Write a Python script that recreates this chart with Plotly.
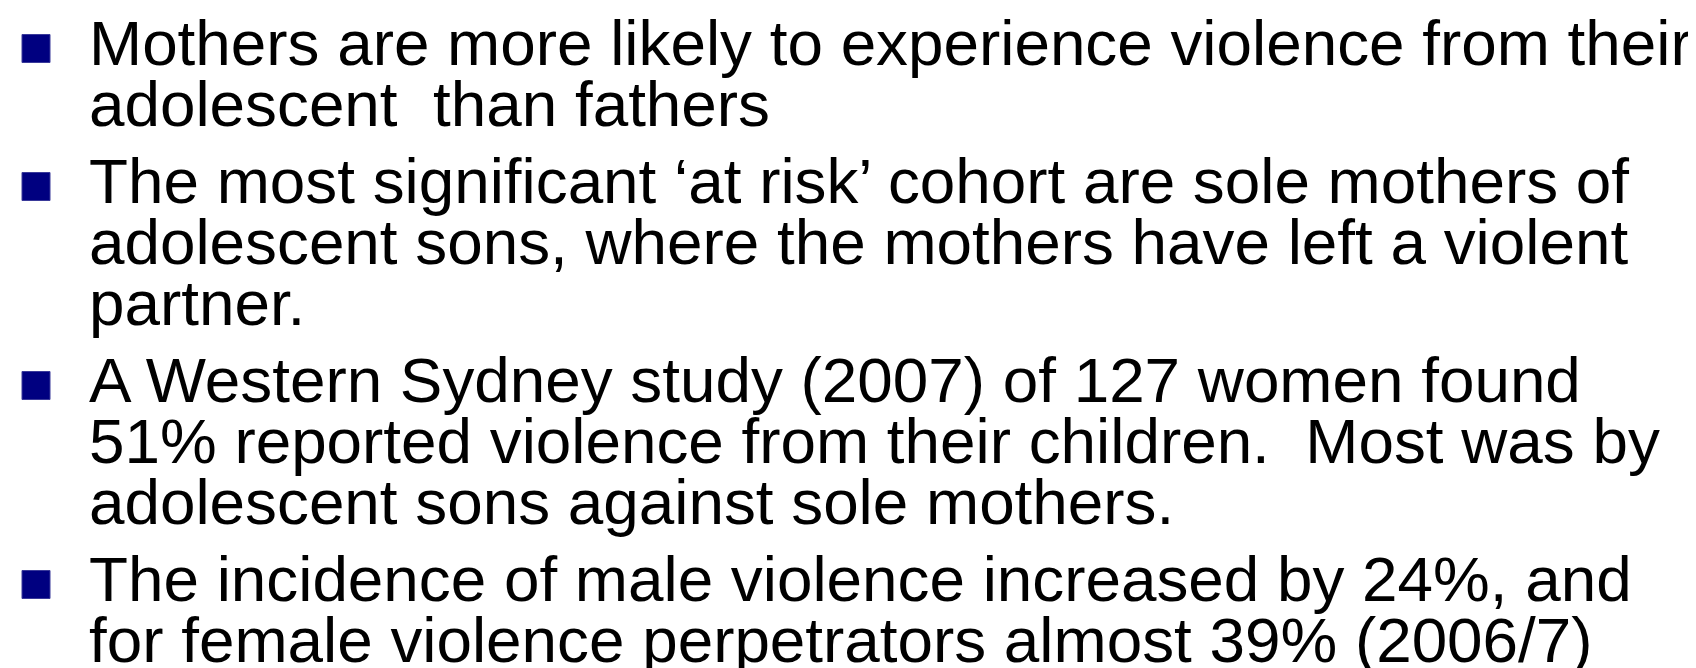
import plotly.graph_objects as go

# Slide content: each bullet paragraph as its visual lines
para_1 = ["Mothers are more likely to experience violence from their",
          "adolescent  than fathers"]
para_2 = ["The most significant \u2018at risk\u2019 cohort are sole mothers of",
          "adolescent sons, where the mothers have left a violent",
          "partner."]
para_3 = ["A Western Sydney study (2007) of 127 women found",
          "51% reported violence from their children.  Most was by",
          "adolescent sons against sole mothers."]
para_4 = ["The incidence of male violence increased by 24%, and",
          "for female violence perpetrators almost 39% (2006/7)"]
paragraphs = [para_1, para_2, para_3, para_4]

W, H = 1696, 668
FONT_SIZE = 63.8
FONT = "Liberation Sans, Arial, sans-serif"
LINE_STEP = 61.0        # baseline to baseline within a paragraph
PARA_STEP = 77.0        # baseline to baseline across paragraphs
FIRST_BASELINE = 60.0
TEXT_X = 79.0
BULLET_X = 28.0
BULLET_SIZE = 28.0
BULLET_COLOR = "#000080"
BASELINE_TO_MIDDLE = 0.3465 * FONT_SIZE + 2.5

fig = go.Figure()
annotations = []
shapes = []
baseline = FIRST_BASELINE
for p_idx, para in enumerate(paragraphs):
    if p_idx > 0:
        baseline += PARA_STEP
    cy = baseline - 19.5
    shapes.append(dict(type="rect", xref="x", yref="y",
                       x0=BULLET_X - BULLET_SIZE / 2, x1=BULLET_X + BULLET_SIZE / 2,
                       y0=cy - BULLET_SIZE / 2, y1=cy + BULLET_SIZE / 2,
                       fillcolor=BULLET_COLOR,
                       line=dict(color="#3a3a9a", width=1)))
    for l_idx, line in enumerate(para):
        if l_idx > 0:
            baseline += LINE_STEP
        annotations.append(dict(x=TEXT_X, y=baseline - BASELINE_TO_MIDDLE,
                                xref="x", yref="y",
                                text=line, showarrow=False,
                                xanchor="left", yanchor="middle",
                                font=dict(family=FONT, size=FONT_SIZE, color="#000000")))

fig.update_layout(
    width=W, height=H,
    margin=dict(l=0, r=0, t=0, b=0),
    paper_bgcolor="white", plot_bgcolor="white",
    xaxis=dict(range=[0, W], visible=False, fixedrange=True),
    yaxis=dict(range=[H, 0], visible=False, fixedrange=True),
    annotations=annotations, shapes=shapes,
    showlegend=False,
)
fig.write_html("out.html", config={"displayModeBar": False})
